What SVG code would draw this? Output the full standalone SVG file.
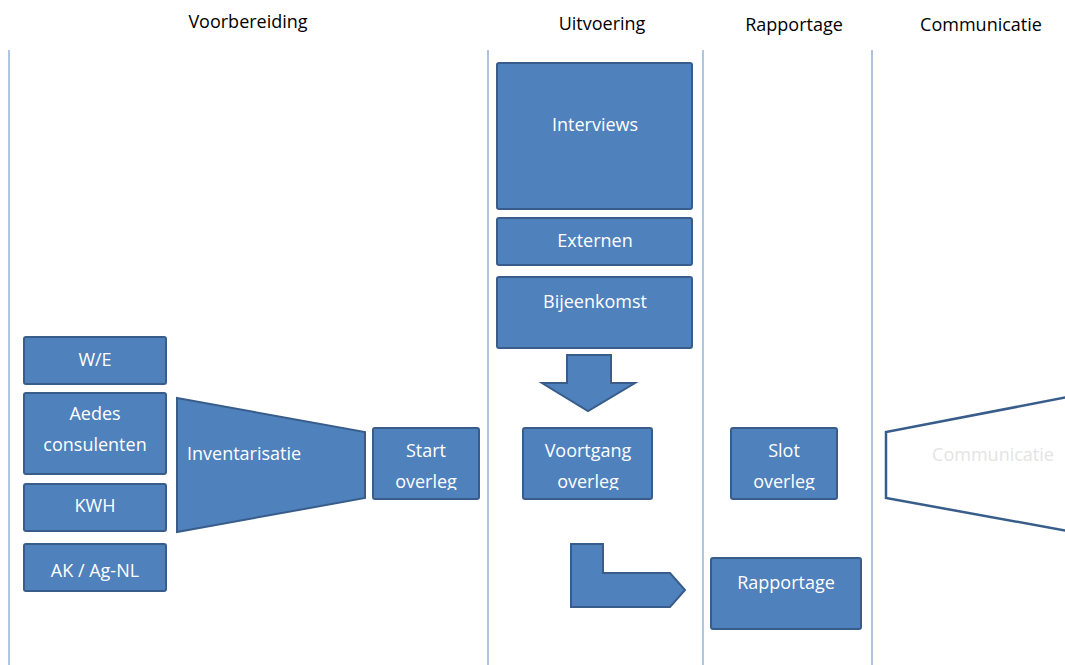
<svg xmlns="http://www.w3.org/2000/svg" width="1065" height="665" viewBox="0 0 1065 665">
  <style>
    .lane { stroke: #95B3D7; stroke-width: 1.5; fill: none; }
    .hdr { font-family: "Open Sans", "Liberation Sans", sans-serif; font-size: 18px; fill: #000; text-anchor: middle; }
    .box { fill: #4F81BD; stroke: #385D8A; stroke-width: 2; }
    .lbl { font-family: "Open Sans", "Liberation Sans", sans-serif; font-size: 18px; fill: #FFFFFF; text-anchor: middle; }
    .ghost { fill: #FFFFFF; stroke: #385D8A; stroke-width: 2.5; }
  </style>
  <defs>
    <clipPath id="clipStart"><rect x="373" y="428" width="106" height="62"/></clipPath>
    <clipPath id="clipVoortgang"><rect x="523" y="428" width="129" height="62"/></clipPath>
    <clipPath id="clipSlot"><rect x="731" y="428" width="106" height="62"/></clipPath>
  </defs>
  <rect width="1065" height="665" fill="#FFFFFF"/>

  <!-- swimlane headers and dividers -->
  <g id="lanes">
    <text class="hdr" x="248" y="28">Voorbereiding</text>
    <text class="hdr" x="602" y="30">Uitvoering</text>
    <text class="hdr" x="794" y="31">Rapportage</text>
    <text class="hdr" x="981" y="31">Communicatie</text>
    <line class="lane" x1="9" y1="50" x2="9" y2="665"/>
    <line class="lane" x1="488" y1="50" x2="488" y2="665"/>
    <line class="lane" x1="703" y1="50" x2="703" y2="665"/>
    <line class="lane" x1="872" y1="50" x2="872" y2="665"/>
  </g>

  <!-- Voorbereiding -->
  <g id="we">
    <rect class="box" x="24" y="337" width="142" height="47" rx="2"/>
    <text class="lbl" x="95" y="366">W/E</text>
  </g>
  <g id="aedes">
    <rect class="box" x="24" y="393" width="142" height="81" rx="2"/>
    <text class="lbl" x="95" y="420">Aedes</text>
    <text class="lbl" x="95" y="451">consulenten</text>
  </g>
  <g id="kwh">
    <rect class="box" x="24" y="484" width="142" height="47" rx="2"/>
    <text class="lbl" x="95" y="512">KWH</text>
  </g>
  <g id="ak">
    <rect class="box" x="24" y="544" width="142" height="47" rx="2"/>
    <text class="lbl" x="95" y="577">AK / Ag-NL</text>
  </g>
  <g id="inventarisatie">
    <polygon class="box" points="177,398 365,432 365,498 177,532"/>
    <text class="lbl" x="187" y="460" style="text-anchor:start">Inventarisatie</text>
  </g>
  <g id="start-overleg">
    <rect class="box" x="373" y="428" width="106" height="71" rx="2"/>
    <g clip-path="url(#clipStart)">
      <text class="lbl" x="426" y="457">Start</text>
      <text class="lbl" x="426" y="488">overleg</text>
    </g>
  </g>

  <!-- Uitvoering -->
  <g id="interviews">
    <rect class="box" x="497" y="63" width="195" height="146" rx="2"/>
    <text class="lbl" x="595" y="131">Interviews</text>
  </g>
  <g id="externen">
    <rect class="box" x="497" y="218" width="195" height="47" rx="2"/>
    <text class="lbl" x="595" y="247">Externen</text>
  </g>
  <g id="bijeenkomst">
    <rect class="box" x="497" y="277" width="195" height="71" rx="2"/>
    <text class="lbl" x="595" y="308">Bijeenkomst</text>
  </g>
  <g id="voortgang-overleg">
    <rect class="box" x="523" y="428" width="129" height="71" rx="2"/>
    <g clip-path="url(#clipVoortgang)">
      <text class="lbl" x="588" y="457">Voortgang</text>
      <text class="lbl" x="588" y="488">overleg</text>
    </g>
  </g>

  <!-- Rapportage -->
  <g id="slot-overleg">
    <rect class="box" x="731" y="428" width="106" height="71" rx="2"/>
    <g clip-path="url(#clipSlot)">
      <text class="lbl" x="784" y="457">Slot</text>
      <text class="lbl" x="784" y="488">overleg</text>
    </g>
  </g>
  <g id="rapportage">
    <rect class="box" x="711" y="558" width="150" height="71" rx="2"/>
    <text class="lbl" x="786" y="589">Rapportage</text>
  </g>

  <!-- Communicatie -->
  <g id="communicatie">
    <polygon class="ghost" points="1068,397 886,432 886,498 1068,531"/>
    <text class="lbl" x="993" y="461" style="fill:#E4E4E4">Communicatie</text>
  </g>

  <!-- block arrows -->
  <g id="connectors">
    <polygon class="box" points="567,355 611,355 611,383 635,383 588,411 542,383 567,383"/>
    <polygon class="box" points="571,544 603,544 603,573 670,573 685,590 670,607 571,607"/>
  </g>
</svg>
